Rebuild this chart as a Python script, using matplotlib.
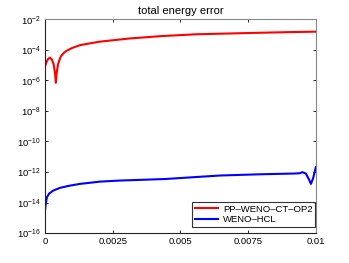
import matplotlib
matplotlib.use("Agg")
import matplotlib.pyplot as plt
import numpy as np

plt.rcParams['font.family'] = ['Liberation Sans', 'DejaVu Sans']
plt.rcParams['mathtext.fontset'] = 'custom'
plt.rcParams['mathtext.rm'] = 'Liberation Sans'
plt.rcParams['mathtext.it'] = 'Liberation Sans'

# time and log10(error)
t_pp = [0.0, 0.00004, 0.00010, 0.00018, 0.00025, 0.00032, 0.00037, 0.0004,
        0.00043, 0.00048, 0.00052, 0.00056, 0.0006, 0.0007, 0.0008, 0.001,
        0.0013, 0.002, 0.0031, 0.0043, 0.0056, 0.0075, 0.009, 0.01]
log_pp = [-5.10, -4.85, -4.62, -4.50, -4.62, -4.95, -5.55, -6.15,
          -5.50, -4.95, -4.72, -4.52, -4.38, -4.18, -4.05, -3.87,
          -3.68, -3.46, -3.25, -3.09, -2.97, -2.89, -2.83, -2.80]

t_hcl = [0.0, 0.00003, 0.00007, 0.00015, 0.0003, 0.00055, 0.0009, 0.00129,
         0.00203, 0.00277, 0.00443, 0.00646, 0.00793, 0.00920, 0.00941,
         0.00950, 0.00963, 0.00975, 0.00982, 0.0099, 0.01]
log_hcl = [-14.50, -14.05, -13.66, -13.42, -13.22, -13.04, -12.90, -12.78,
           -12.63, -12.56, -12.46, -12.23, -12.15, -12.10, -12.08,
           -12.01, -12.10, -12.50, -12.78, -12.40, -11.68]

xticks = [0, 0.0025, 0.005, 0.0075, 0.01]
xticklabels = ['0', '0.0025', '0.005', '0.0075', '0.01']
ydecades = [-16, -14, -12, -10, -8, -6, -4, -2]

fig = plt.figure(figsize=(3.49, 2.63), dpi=100)
ax = fig.add_axes([0.129, 0.114, 0.776, 0.812])

ax.semilogy(t_pp, 10.0 ** np.array(log_pp), color='#ff0000', lw=1.5,
            label='PP\u2013WENO\u2013CT\u2013OP2')
ax.semilogy(t_hcl, 10.0 ** np.array(log_hcl), color='#0000ff', lw=1.5,
            label='WENO\u2013HCL')

ax.set_xlim(0, 0.01)
ax.set_ylim(1e-16, 1e-2)
ax.set_xticks(xticks)
ax.set_xticklabels(xticklabels)
ax.set_yticks([10.0 ** d for d in ydecades])
ax.set_yticklabels([r'$10^{%d}$' % d for d in ydecades])
ax.minorticks_off()
ax.tick_params(direction='in', length=2.5, width=0.6, labelsize=6.8,
               top=True, right=True, pad=3)
for s in ['left', 'bottom']:
    ax.spines[s].set_color('#222222')
    ax.spines[s].set_linewidth(0.8)
for s in ['top', 'right']:
    ax.spines[s].set_color('#888888')
    ax.spines[s].set_linewidth(0.8)

ax.set_title('total energy error', fontsize=8, pad=4)

leg = ax.legend(loc='lower right', bbox_to_anchor=(0.998, 0.028),
                fontsize=6.8, frameon=True, fancybox=False,
                edgecolor='black', borderaxespad=0, handlelength=2.5,
                borderpad=0.3, labelspacing=0.15, handletextpad=0.5)
leg.get_frame().set_linewidth(0.8)

fig.savefig('out.png', dpi=100)
